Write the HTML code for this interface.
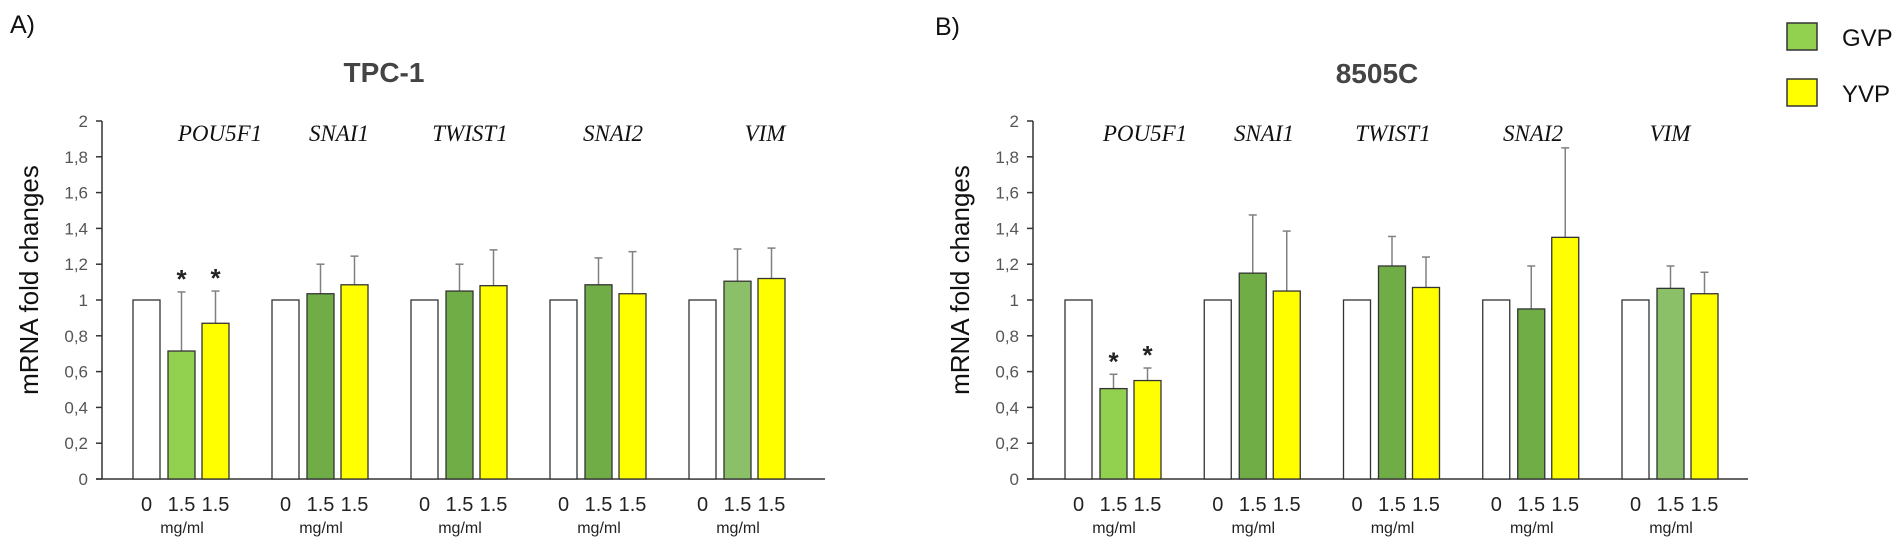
<!DOCTYPE html>
<html><head><meta charset="utf-8"><style>
body{margin:0;background:#fff;width:1901px;height:552px;overflow:hidden}
.sans{font-family:"Liberation Sans",sans-serif}
.serif{font-family:"Liberation Serif",serif}
</style></head><body>
<svg id="chart" width="1901" height="552" xmlns="http://www.w3.org/2000/svg">
<text class="sans" x="10" y="33" font-size="25" fill="#111">A)</text>
<text class="sans" x="935" y="35" font-size="25" fill="#111">B)</text>
<text class="sans" x="384" y="82" font-size="28" font-weight="bold" fill="#444" text-anchor="middle">TPC-1</text>
<text class="sans" x="1377" y="83" font-size="28" font-weight="bold" fill="#444" text-anchor="middle">8505C</text>
<rect x="1787" y="23" width="30" height="27" fill="#92d050" stroke="#333" stroke-width="1.5"/>
<text class="sans" x="1842" y="46" font-size="24" fill="#111">GVP</text>
<rect x="1787" y="79" width="30" height="27" fill="#ffff00" stroke="#333" stroke-width="1.5"/>
<text class="sans" x="1842" y="102" font-size="24" fill="#111">YVP</text>
</svg>
<script>
const genes = ["POU5F1","SNAI1","TWIST1","SNAI2","VIM"];
const ticks = ["0","0,2","0,4","0,6","0,8","1","1,2","1,4","1,6","1,8","2"];
const aCtrl = [1,1,1,1,1];
const aGVP = [0.715,1.035,1.05,1.085,1.105];
const aGVPerr = [1.045,1.2,1.2,1.235,1.285];
const aYVP = [0.87,1.085,1.08,1.035,1.12];
const aYVPerr = [1.05,1.245,1.28,1.27,1.29];
const bCtrl = [1,1,1,1,1];
const bGVP = [0.505,1.15,1.19,0.95,1.065];
const bGVPerr = [0.585,1.475,1.355,1.19,1.19];
const bYVP = [0.55,1.05,1.07,1.35,1.035];
const bYVPerr = [0.62,1.385,1.24,1.85,1.155];
const aStars = [true,false,false,false,false];
const bStars = [true,false,false,false,false];
const gvpColors = ["#92d050","#70ad47","#70ad47","#70ad47","#8bc068"];

const NS="http://www.w3.org/2000/svg";
const svg=document.getElementById('chart');
function mk(tag,attrs,parent){const e=document.createElementNS(NS,tag);for(const k in attrs)e.setAttribute(k,attrs[k]);(parent||svg).appendChild(e);return e;}
const Y0=479, PX=179;
function y(v){return Y0-v*PX;}

function panel(id,axisX,axisEnd,start,step,labelCenters,ctrl,gvp,gvpE,yvp,yvpE,stars){
  const g=mk('g',{});
  
  
  const ya=mk('line',{x1:axisX,y1:y(2),x2:axisX,y2:Y0,stroke:'#333','stroke-width':1.5},g);
  
  
  const xa=mk('line',{x1:axisX-6,y1:Y0,x2:axisEnd,y2:Y0,stroke:'#333','stroke-width':1.5},g);
  
  
  ticks.forEach((t,i)=>{
    const v=i*0.2;
    mk('line',{x1:axisX-6,y1:y(v),x2:axisX,y2:y(v),stroke:'#333','stroke-width':1.5},g);
    const tx=mk('text',{class:'sans',x:axisX-14,y:y(v)+6,'font-size':17,fill:'#555','text-anchor':'end'},g);
    tx.textContent=t;
    
    
  });
  const yl=mk('text',{class:'sans',x:0,y:0,'font-size':26,fill:'#111','text-anchor':'middle',transform:`translate(${axisX-64},280) rotate(-90)`},g);
  yl.textContent='mRNA fold changes';
  
  
  genes.forEach((gn,i)=>{
    const x0=start+i*step, w=27;
    const bars=[[ctrl[i],'#fff',x0,null],[gvp[i],gvpColors[i],x0+35,gvpE[i]],[yvp[i],'#ffff00',x0+69,yvpE[i]]];
    const names=['control','gvp','yvp'];
    bars.forEach((b,j)=>{
      if(b[3]!==null){
        const cx=b[2]+w/2;
        mk('line',{x1:cx,y1:y(b[3]),x2:cx,y2:y(b[0]),stroke:'#808080','stroke-width':1.5},g);
        mk('line',{x1:cx-4,y1:y(b[3]),x2:cx+4,y2:y(b[3]),stroke:'#808080','stroke-width':1.5},g);
        if(stars[i]){
          const s=mk('text',{class:'sans',x:cx,y:y(b[3])-4,'font-size':26,'font-weight':'bold',fill:'#222','text-anchor':'middle'},g);
          s.textContent='*';
          
          
        }
      }
      const r=mk('rect',{x:b[2],y:y(b[0]),width:w,height:Y0-y(b[0]),fill:b[1],stroke:'#333','stroke-width':1.3},g);
      
      
      const tl=mk('text',{class:'sans',x:b[2]+w/2,y:511,'font-size':20,fill:'#222','text-anchor':'middle'},g);
      tl.textContent=j===0?'0':'1.5';
      
      
    });
    const u=mk('text',{class:'sans',x:x0+49,y:533,'font-size':16,fill:'#222','text-anchor':'middle'},g);
    u.textContent='mg/ml';
    
    
    const gl=mk('text',{class:'serif',x:labelCenters[i],y:141,'font-size':23,'font-style':'italic',fill:'#111','text-anchor':'middle'},g);
    gl.textContent=gn;
    
    
  });
}
panel('tpc1',102,825,133,139,[220,339,470,613,765],aCtrl,aGVP,aGVPerr,aYVP,aYVPerr,aStars);
panel('8505c',1033,1748,1065,139.25,[1145,1264,1393,1533,1670],bCtrl,bGVP,bGVPerr,bYVP,bYVPerr,bStars);
</script>
</body></html>
